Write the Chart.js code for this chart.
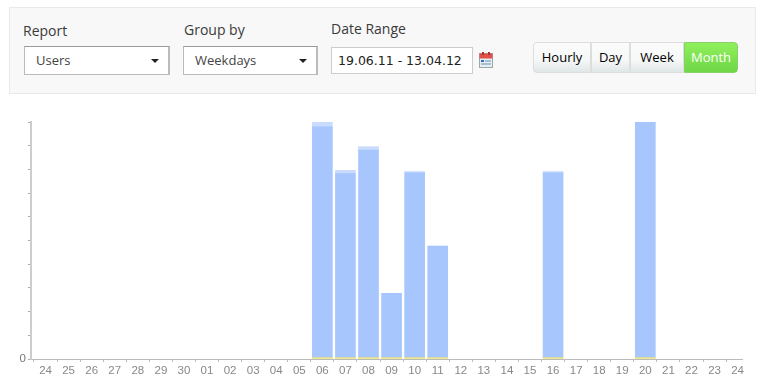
<!DOCTYPE html>
<html>
<head>
<meta charset="utf-8">
<script src="https://cdn.jsdelivr.net/npm/chart.js@4"></script>
<style>
  html, body { margin: 0; padding: 0; background: #fff; overflow: hidden; }
  body { width: 768px; height: 386px; position: relative; font-family: "Open Sans", sans-serif; color: #333; }
  .abs { position: absolute; box-sizing: border-box; white-space: nowrap; }
  .panel { left: 9px; top: 7px; width: 747px; height: 87px; background: #f8f8f8; border: 1px solid #e9e9e9; }
  .label { font-size: 14px; line-height: 18px; color: #3a3a3a; }
  .select { height: 29px; top: 46px; background: #fff; border: 1px solid #bbb; border-top-color: #999; border-right: 2px solid #bbb; font-size: 13px; line-height: 27px; color: #444; padding-left: 11px; }
  .select i { position: absolute; right: 9px; top: 12px; border: 4px solid transparent; border-top-color: #222; border-bottom: 0; }
  .date { left: 331px; top: 47px; width: 142px; height: 27px; background: #fff; border: 1px solid #ccc; font-family: "DejaVu Sans", sans-serif; font-size: 12.5px; line-height: 26px; padding-left: 6px; color: #222; }
  .btn { top: 42px; height: 31px; text-align: center; font-size: 13px; line-height: 29px; color: #000; font-weight: 500; background: linear-gradient(#fbfbfb, #f6f7f7 60%, #dfe6e6); border: 1px solid #ddd; }
  .on { color: #fff; font-weight: 400; background: linear-gradient(#8ff05c, #6fd645); border-color: #88d068; }
  #wrap { position: absolute; left: 0; top: 110px; width: 768px; height: 276px; }
</style>
</head>
<body>
<div class="abs panel"></div>
<div class="abs label" style="left:23px;top:22px">Report</div>
<div class="abs label" style="left:184px;top:21px">Group by</div>
<div class="abs label" style="left:331px;top:20px">Date Range</div>
<div class="abs select" style="left:24px;width:146px">Users<i></i></div>
<div class="abs select" style="left:183px;width:135px">Weekdays<i></i></div>
<div class="abs date">19.06.11 - 13.04.12</div>
<svg class="abs" style="left:479px;top:52px" width="15" height="16" viewBox="0 0 15 16">
  <rect x="0.5" y="1.5" width="13" height="14" fill="#e8edf2" stroke="#9aa"/>
  <rect x="0.5" y="1.5" width="13" height="5" fill="#e2504c"/>
  <rect x="3" y="0" width="2" height="3" fill="#a33"/><rect x="9" y="0" width="2" height="3" fill="#a33"/>
  <rect x="2" y="8" width="3" height="2" fill="#2f6fc0"/><rect x="6" y="8" width="6" height="2" fill="#a9bfd6"/>
  <rect x="2" y="11" width="10" height="2" fill="#a9bfd6"/>
</svg>
<div class="abs btn" style="left:533px;width:58px;border-radius:4px 0 0 4px">Hourly</div>
<div class="abs btn" style="left:591px;width:39px">Day</div>
<div class="abs btn" style="left:630px;width:54px">Week</div>
<div class="abs btn on" style="left:684px;width:54px;border-radius:0 4px 4px 0">Month</div>
<div id="wrap"><canvas id="chart" width="768" height="276"></canvas></div>
<script>
const tickLabels = ["24","25","26","27","28","29","30","01","02","03","04","05","06","07","08","09","10","11","12","13","14","15","16","17","18","19","20","21","22","23","24"];
const barSlots = [12, 13, 14, 15, 16, 17, 22, 26];
const yellowBase = [0.06, 0.06, 0.06, 0.06, 0.06, 0.06, 0.06, 0.06];
const mainValues = [9.74, 7.76, 8.76, 2.71, 7.8, 4.7, 7.8, 9.94];
const lightCaps = [0.2, 0.14, 0.14, 0, 0.05, 0, 0.05, 0];

function points(values) {
  return barSlots.map((slot, i) => ({x: slot, y: values[i]}));
}

const barCommon = {barThickness: 20, stack: 'a'};

new Chart(document.getElementById("chart"), {
  type: 'bar',
  data: {
    datasets: [
      {data: points(yellowBase), backgroundColor: '#e8e27a', ...barCommon},
      {data: points(mainValues), backgroundColor: '#a6c6fd', ...barCommon},
      {data: points(lightCaps), backgroundColor: '#c9dcfd', ...barCommon}
    ]
  },
  options: {
    responsive: false,
    animation: false,
    layout: {padding: {top: 12, right: 26, left: 0, bottom: 0}},
    plugins: {legend: {display: false}, tooltip: {enabled: false}},
    scales: {
      x: {
        type: 'linear',
        offset: false,
        stacked: true,
        min: -0.63,
        max: 30.19,
        afterFit: s => { s.height = 27; },
        grid: {drawOnChartArea: false, color: '#bbb', tickLength: 3},
        border: {color: '#bbb', width: 1},
        ticks: {
          stepSize: 1,
          includeBounds: false,
          autoSkip: false,
          maxRotation: 0,
          padding: 2,
          color: '#888',
          font: {family: '"Liberation Sans"', size: 11.5},
          callback: v => tickLabels[v]
        }
      },
      y: {
        stacked: true,
        min: 0,
        max: 10,
        afterFit: s => { s.width = 31; },
        grid: {drawOnChartArea: false, color: '#aaa', tickLength: 3},
        border: {color: '#ccc', width: 2},
        ticks: {
          stepSize: 1,
          padding: 2,
          color: '#777',
          font: {family: '"Liberation Sans"', size: 11.5},
          callback: v => v === 0 ? '0' : ''
        }
      }
    }
  }
});
</script>
</body>
</html>
